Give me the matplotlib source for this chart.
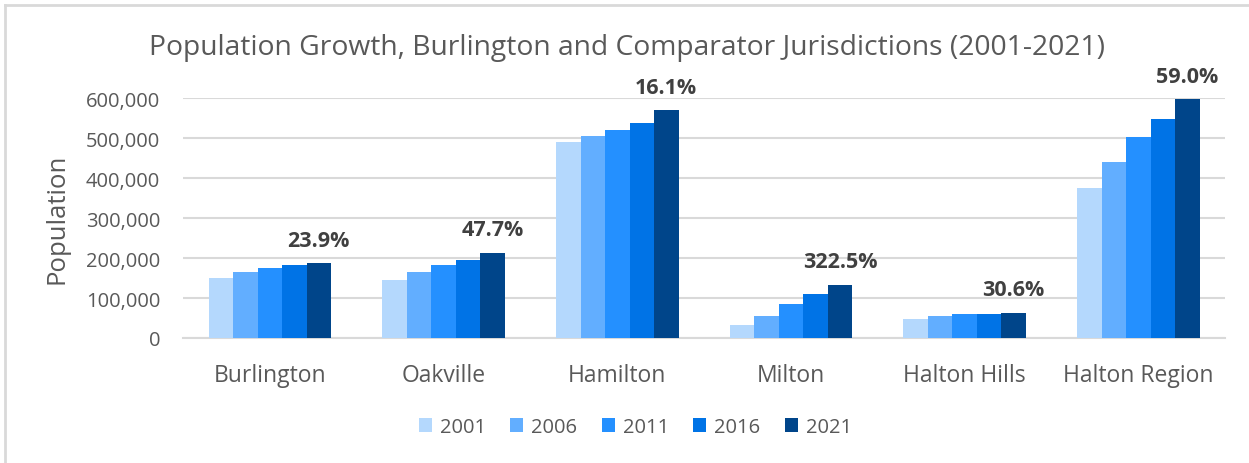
import numpy as np
import matplotlib
matplotlib.use("Agg")
import matplotlib.pyplot as plt
from matplotlib.lines import Line2D

plt.rcParams["font.family"] = ["Open Sans", "DejaVu Sans"]

# ----------------------------
# Data
# ----------------------------
places = ["Burlington", "Oakville", "Hamilton", "Milton", "Halton Hills", "Halton Region"]
years = ["2001", "2006", "2011", "2016", "2021"]
pop2001 = [150836, 144738, 490268, 31471, 48184, 375229]
pop2006 = [164415, 165613, 504559, 53939, 55289, 439256]
pop2011 = [175779, 182520, 519949, 84362, 59008, 501669]
pop2016 = [183314, 193832, 536917, 110128, 61161, 548435]
pop2021 = [186948, 213759, 569353, 132979, 62951, 596637]
growthLabels = ["23.9%", "47.7%", "16.1%", "322.5%", "30.6%", "59.0%"]

barColors = ["#B4D8FD", "#62AEFF", "#2490FF", "#0073E6", "#00458A"]
textGray = "#595959"

series = [pop2001, pop2006, pop2011, pop2016, pop2021]

fig = plt.figure(figsize=(12.49, 4.64), dpi=100)
ax = fig.add_axes([0.1465, 0.2694, 0.8345, 0.5172])

x = np.arange(len(places))
barWidth = 0.141
for i, (vals, yr) in enumerate(zip(series, years)):
    offset = (i - 2) * barWidth
    ax.bar(x + offset, vals, width=barWidth, color=barColors[i], label=yr, zorder=3)

# growth labels sit above the 2021 bar
for xi, val, lab in zip(x, pop2021, growthLabels):
    ax.annotate(lab, (xi + 2 * barWidth, val), xytext=(0, 9), textcoords="offset points",
                ha="center", va="bottom", fontsize=15.5, fontweight="bold", color="#404040",
                annotation_clip=False)

ax.set_xlim(-0.5, len(places) - 0.5)
ax.set_ylim(0, 600000)
ax.set_yticks(np.arange(0, 600001, 100000))
ax.yaxis.set_major_formatter(matplotlib.ticker.FuncFormatter(lambda v, p: f"{int(v):,}"))
ax.set_xticks(x)
ax.set_xticklabels(places)
ax.tick_params(axis="both", length=0, colors=textGray)
ax.tick_params(axis="x", pad=18, labelsize=16.5)
ax.tick_params(axis="y", pad=16.5, labelsize=14.5)
ax.grid(axis="y", color="#D9D9D9", linewidth=1.5, zorder=0)
for side in ["top", "right", "left"]:
    ax.spines[side].set_visible(False)
ax.spines["bottom"].set_color("#D9D9D9")
ax.spines["bottom"].set_linewidth(1.5)

ax.set_ylabel("Population", fontsize=18.5, color=textGray, labelpad=12)
fig.text(0.502, 0.897, "Population Growth, Burlington and Comparator Jurisdictions (2001-2021)",
         ha="center", va="center", fontsize=20.3, color=textGray)

ax.legend(loc="center", bbox_to_anchor=(0.434, -0.371), ncol=5, frameon=False,
          fontsize=14.5, labelcolor=textGray, handlelength=0.65, handleheight=0.65,
          handletextpad=0.4, columnspacing=1.2)

# light frame on the top and left edges of the chart
fig.add_artist(Line2D([0.004, 0.004], [0.0, 0.987], transform=fig.transFigure,
                      color="#D9D9D9", linewidth=2))
fig.add_artist(Line2D([0.004, 1.0], [0.987, 0.987], transform=fig.transFigure,
                      color="#D9D9D9", linewidth=2))

fig.savefig("out.png", dpi=100, facecolor="white")
